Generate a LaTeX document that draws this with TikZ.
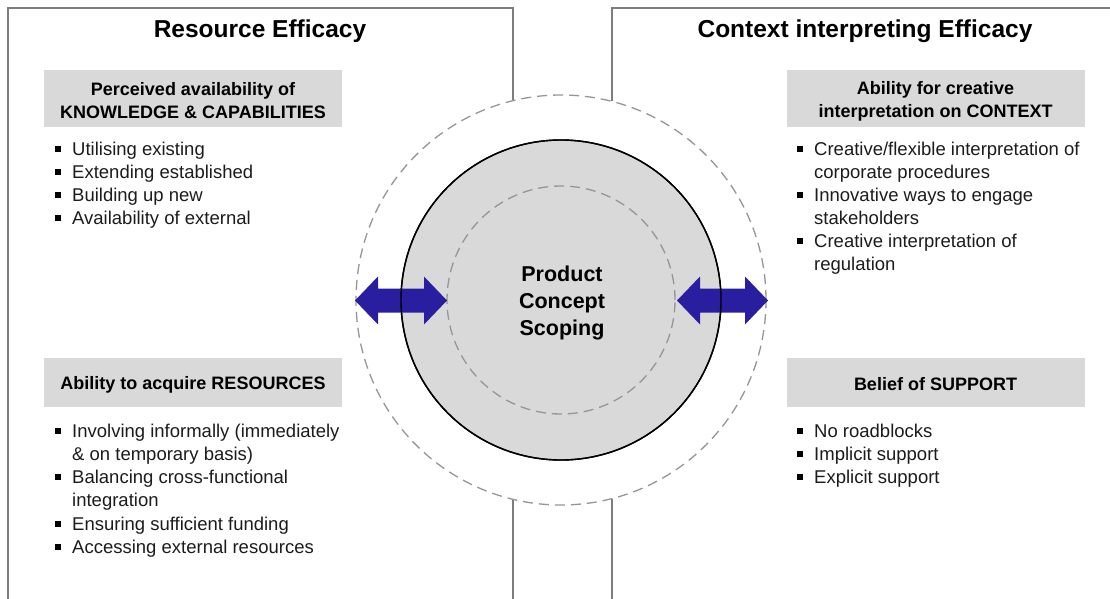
\documentclass[tikz,border=0pt]{standalone}
\usepackage{fontspec}
\setmainfont{Liberation Sans}
\definecolor{arrowblue}{RGB}{42,30,160}
\definecolor{boxgray}{RGB}{217,217,217}
\definecolor{panelgray}{RGB}{125,125,125}
\definecolor{dashgray}{RGB}{150,150,150}
\definecolor{txt}{RGB}{28,28,28}
\begin{document}
\begin{tikzpicture}[x=1pt,y=-1pt,
  panel/.style={draw=panelgray,line width=1.1pt},
  dashcirc/.style={circle,draw=dashgray,line width=1.3pt,dash pattern=on 10pt off 6pt,inner sep=0pt},
  title/.style={font=\bfseries\fontsize{24.5pt}{28pt}\selectfont,text=black,inner sep=0pt},
  gbox/.style={fill=boxgray,inner sep=0pt,minimum width=298pt},
  gtext/.style={align=center,inner sep=0pt,font=\bfseries\fontsize{18pt}{23pt}\selectfont,text=black},
  itemtext/.style={anchor=base west,inner sep=0pt,text=txt,font=\fontsize{18.5pt}{23pt}\selectfont},
  bulletsq/.style={fill=black,inner sep=0pt,minimum size=5.5pt},
  arrowfill/.style={fill=arrowblue}
]
\useasboundingbox (0,0) rectangle (1110,599);
\fill[white] (0,0) rectangle (1110,599);

% panels
\draw[panel] (513,100.7) -- (513,8) -- (8,8) -- (8,599);
\draw[panel] (513,499.3) -- (513,599);
\draw[panel] (612,101.4) -- (612,8) -- (1110,8);
\draw[panel] (612,498.6) -- (612,599);

% titles
\node[title] (t1) at (260,31) {Resource Efficacy};
\node[title] (t2) at (865,31) {Context interpreting Efficacy};

% circles
\node[dashcirc,minimum size=410pt] (outer) at (561,300) {};
\node[circle,fill=boxgray,draw=black,line width=1.4pt,minimum size=320pt,inner sep=0pt] (core) at (561,300) {};
\node[dashcirc,minimum size=228pt] (inner) at (core.center) {};
\node[align=center,inner sep=0pt,font=\bfseries\fontsize{21.5pt}{27pt}\selectfont,text=black] (pcs) at (562,303) {Product\\Concept\\Scoping};

% arrows
\fill[arrowfill] (355,300.5) -- (378,276.5) -- (378,288.5) -- (424,288.5) -- (424,276.5)
  -- (447,300.5) -- (424,324.5) -- (424,312.5) -- (378,312.5) -- (378,324.5) -- cycle;
\fill[arrowfill] (677,300.5) -- (700,276.5) -- (700,288.5) -- (745,288.5) -- (745,276.5)
  -- (768,300.5) -- (745,324.5) -- (745,312.5) -- (700,312.5) -- (700,324.5) -- cycle;
\node[circle,draw=black,line width=1.4pt,minimum size=320pt,inner sep=0pt] (coreline) at (core.center) {};

% grey headings
\node[gbox,minimum height=57pt] (kc) at (193,98.5) {};
\node[gtext] (kct) at (193,101) {Perceived availability of\\KNOWLEDGE \& CAPABILITIES};
\node[gbox,minimum height=49pt] (ar) at (193,382.5) {};
\node[gtext] (art) at (193,384.5) {Ability to acquire RESOURCES};
\node[gbox,minimum height=57pt] (ci) at (935.5,98.5) {};
\node[gtext] (cit) at (935.5,101) {Ability for creative\\interpretation on CONTEXT};
\node[gbox,minimum height=49pt] (bs) at (935.5,382.5) {};
\node[gtext] (bst) at (935.5,384.5) {Belief of SUPPORT};

% left top list
\node[bulletsq] (b1) at (58,149) {};
\node[itemtext] (i1) at (72,155) {Utilising existing};
\node[bulletsq] (b2) at (58,172) {};
\node[itemtext] (i2) at (72,178) {Extending established};
\node[bulletsq] (b3) at (58,195) {};
\node[itemtext] (i3) at (72,201) {Building up new};
\node[bulletsq] (b4) at (58,218) {};
\node[itemtext] (i4) at (72,224) {Availability of external};

% left bottom list
\node[bulletsq] (b5) at (58,431) {};
\node[itemtext] (i5) at (72,437) {Involving informally (immediately};
\node[itemtext] (i5b) at (72,460) {\& on temporary basis)};
\node[bulletsq] (b6) at (58,477) {};
\node[itemtext] (i6) at (72,483) {Balancing cross-functional};
\node[itemtext] (i6b) at (72,506) {integration};
\node[bulletsq] (b7) at (58,524) {};
\node[itemtext] (i7) at (72,530) {Ensuring sufficient funding};
\node[bulletsq] (b8) at (58,547) {};
\node[itemtext] (i8) at (72,553) {Accessing external resources};

% right top list
\node[bulletsq] (c1) at (800,149) {};
\node[itemtext] (j1) at (814,155) {Creative/flexible interpretation of};
\node[itemtext] (j1b) at (814,178) {corporate procedures};
\node[bulletsq] (c2) at (800,195) {};
\node[itemtext] (j2) at (814,201) {Innovative ways to engage};
\node[itemtext] (j2b) at (814,224) {stakeholders};
\node[bulletsq] (c3) at (800,241) {};
\node[itemtext] (j3) at (814,247) {Creative interpretation of};
\node[itemtext] (j3b) at (814,270) {regulation};

% right bottom list
\node[bulletsq] (c4) at (800,431) {};
\node[itemtext] (j4) at (814,437) {No roadblocks};
\node[bulletsq] (c5) at (800,454) {};
\node[itemtext] (j5) at (814,460) {Implicit support};
\node[bulletsq] (c6) at (800,477) {};
\node[itemtext] (j6) at (814,483) {Explicit support};
\end{tikzpicture}
\end{document}
